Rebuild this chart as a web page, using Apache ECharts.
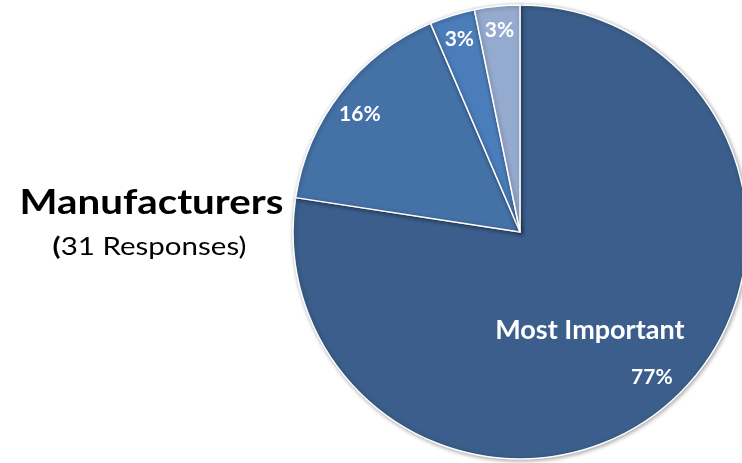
<!DOCTYPE html>
<html>
<head>
<meta charset="utf-8">
<script src="https://cdn.jsdelivr.net/npm/echarts@6/dist/echarts.min.js"></script>
<style>
  html, body { margin: 0; padding: 0; background: #ffffff; }
  #chart { width: 742px; height: 463px; }
</style>
</head>
<body>
<div id="chart"></div>
<script>
// Ranking of importance, manufacturers' answers
const categories = ['Most Important', 'Second', 'Third', 'Fourth'];
const responses = [24, 5, 1, 1];
const sliceColors = ['#3B5E8C', '#4471A6', '#4A7DBA', '#95AACF'];
const titleText = 'Manufacturers';
const subtitleText = '31 Responses)';

const FONT = 'Lato, "Open Sans", sans-serif';
const pieCenter = [520, 232];
const pieRadius = 227;

const chart = echarts.init(document.getElementById('chart'), null, { renderer: 'canvas' });

const pct = p => Math.round(p.percent) + '%';

// main pie: filled slices, label only on the largest slice
const mainData = categories.map((name, i) => ({
  name,
  value: responses[i],
  itemStyle: { color: sliceColors[i] },
  label: { show: i === 0 }
}));

// label ring: transparent outer band that carries the small-slice labels
const ringData = categories.map((name, i) => ({
  name,
  value: responses[i],
  label: { show: i !== 0 }
}));

chart.setOption({
  animation: false,
  backgroundColor: '#ffffff',
  graphic: [
    {
      type: 'text',
      x: 151.5, y: 203,
      scaleX: 1.15,
      style: {
        x: 0, y: 0,
        text: titleText,
        font: 'bold 35px ' + FONT,
        fill: '#000000',
        textAlign: 'center',
        textVerticalAlign: 'middle'
      }
    },
    {
      type: 'text',
      x: 149.5, y: 247,
      scaleX: 1.18,
      style: {
        x: 0, y: 0,
        text: '{b|(}' + subtitleText,
        font: '25px ' + FONT,
        fill: '#000000',
        textAlign: 'center',
        textVerticalAlign: 'middle',
        rich: {
          b: { font: 'bold 25px ' + FONT, fill: '#000000' }
        }
      }
    }
  ],
  series: [
    {
      type: 'pie',
      center: pieCenter,
      radius: [0, pieRadius],
      startAngle: 90,
      clockwise: true,
      avoidLabelOverlap: false,
      silent: true,
      itemStyle: {
        borderColor: '#ffffff',
        borderWidth: 1.5,
        shadowBlur: 4,
        shadowOffsetX: 1,
        shadowOffsetY: 1,
        shadowColor: 'rgba(0,0,0,0.35)'
      },
      label: {
        position: 'inside',
        padding: [82, 0, 0, 0],
        formatter: p => '{name|' + p.name + '}\n{pct|' + pct(p) + '}',
        rich: {
          name: { fontFamily: FONT, fontWeight: 'bold', fontSize: 27, color: '#ffffff', lineHeight: 32, padding: [0, 12, 0, 0] },
          pct: { fontFamily: FONT, fontWeight: 'bold', fontSize: 21, color: '#ffffff', lineHeight: 62, padding: [0, 0, 0, 112] }
        }
      },
      labelLine: { show: false },
      data: mainData
    },
    {
      type: 'pie',
      center: pieCenter,
      radius: [172, pieRadius],
      startAngle: 90,
      clockwise: true,
      avoidLabelOverlap: false,
      silent: true,
      itemStyle: { color: 'rgba(0,0,0,0)' },
      label: {
        position: 'inside',
        formatter: pct,
        fontFamily: FONT,
        fontWeight: 'bold',
        fontSize: 21,
        color: '#ffffff'
      },
      // the wide slice's label sits a little nearer the centre
      labelLayout: p => (p.dataIndex === 1 ? { dy: 6 } : {}),
      labelLine: { show: false },
      data: ringData
    }
  ]
});
</script>
</body>
</html>
